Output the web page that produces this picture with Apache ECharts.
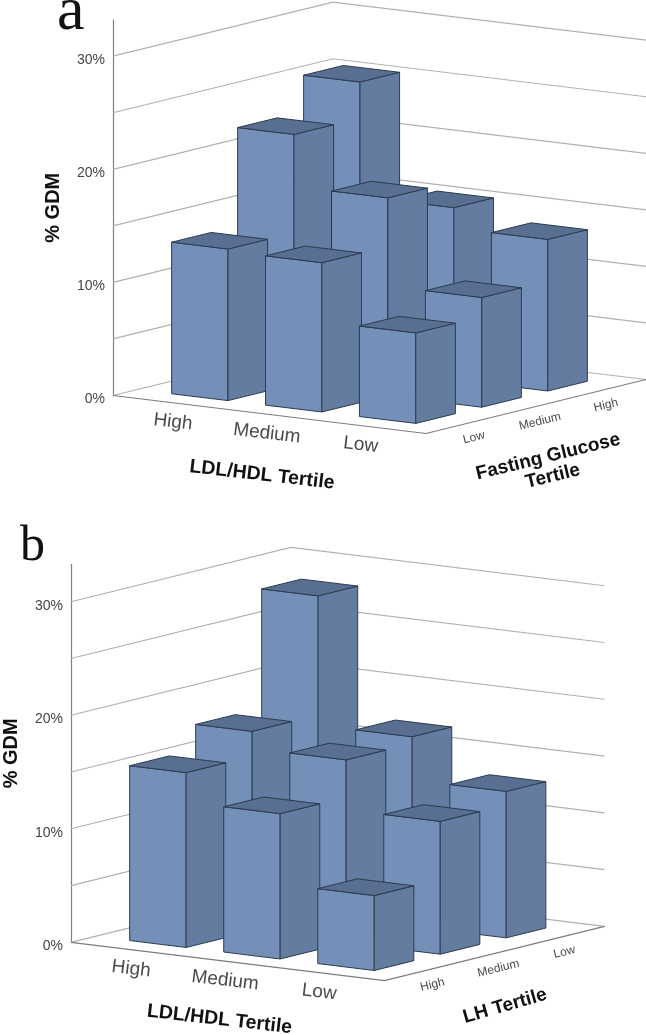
<!DOCTYPE html>
<html>
<head>
<meta charset="utf-8">
<style>
  html, body { margin: 0; background: #fff; }
  #chart { width: 646px; height: 1035px; }
</style>
<script src="https://cdn.jsdelivr.net/npm/echarts@6/dist/echarts.min.js"></script>
</head>
<body>
<div id="chart"></div>
<script>
const ldlLabels = ["High", "Medium", "Low"];
const glucoseLabels = ["Low", "Medium", "High"];
const lhLabels = ["High", "Medium", "Low"];
const wallTicks = [0, 5, 10, 15, 20, 25, 30];

// % GDM per LDL/HDL tertile, ordered along the depth axis (front to back)
const glucoseHighLdl = [13.4, 22.1, 25.3];
const glucoseMediumLdl = [13.2, 17.5, 15.2];
const glucoseLowLdl = [8.0, 9.7, 13.4];

const lhHighLdl = [15.4, 17.6, 28.1];
const lhMediumLdl = [12.8, 16.1, 16.7];
const lhLowLdl = [6.6, 11.7, 12.9];

const FONT = '"Liberation Sans", Arial, sans-serif';
const SPAN = 10 / 3; // floor length in category steps, both directions
const MARGIN = (SPAN - 3) / 2;
const BAR = 0.6;
const COLORS = { front: "#7490b9", side: "#637ca0", top: "#586f92", edge: "#2c3b50", wall: "#b4b0b0", floor: "#7c7c7c" };

// oblique projection: x axis gives the along-front position, y axis the height
function makeProject(api, skew) {
  return function (u, w, v) {
    const p = api.coord([u, v]);
    return [p[0] + w * skew.dzx, p[1] + u * skew.dxy + w * skew.dzy];
  };
}

function renderWall(skew) {
  return function (params, api) {
    const pt = makeProject(api, skew);
    const v = api.value(1);
    return {
      type: "polyline",
      silent: true,
      shape: { points: [pt(0, 0, v), pt(0, SPAN, v), pt(SPAN, SPAN, v)] },
      style: { fill: null, stroke: COLORS.wall, lineWidth: 1.2 }
    };
  };
}

function renderFloor(skew) {
  return function (params, api) {
    const pt = makeProject(api, skew);
    return {
      type: "polyline",
      silent: true,
      shape: { points: [pt(0, 0, 0), pt(SPAN, 0, 0), pt(SPAN, SPAN, 0)] },
      style: { fill: null, stroke: COLORS.floor, lineWidth: 1.2 }
    };
  };
}

function renderBar(skew) {
  return function (params, api) {
    const pt = makeProject(api, skew);
    const pad = MARGIN + (1 - BAR) / 2;
    const u0 = api.value(0) + pad, u1 = u0 + BAR;
    const w0 = api.value(1) + pad, w1 = w0 + BAR;
    const v = api.value(2);
    const face = (points, fill) => ({
      type: "polygon",
      silent: true,
      shape: { points: points },
      style: { fill: fill, stroke: COLORS.edge, lineWidth: 1, lineJoin: "round" }
    });
    return {
      type: "group",
      children: [
        face([pt(u0, w0, 0), pt(u1, w0, 0), pt(u1, w0, v), pt(u0, w0, v)], COLORS.front),
        face([pt(u1, w0, 0), pt(u1, w1, 0), pt(u1, w1, v), pt(u1, w0, v)], COLORS.side),
        face([pt(u0, w0, v), pt(u1, w0, v), pt(u1, w1, v), pt(u0, w1, v)], COLORS.top)
      ]
    };
  };
}

function renderLabel(skew, labels, along, fontSize, rotation, dx, dy) {
  return function (params, api) {
    const pt = makeProject(api, skew);
    const c = MARGIN + api.value(0) + 0.5;
    const p = along === "front" ? pt(c, 0, 0) : pt(SPAN, c, 0);
    return {
      type: "text",
      silent: true,
      x: p[0] + dx,
      y: p[1] + dy,
      rotation: rotation,
      style: {
        text: labels[params.dataIndex],
        fontFamily: FONT,
        fontSize: fontSize,
        fill: "#4a4a4a",
        align: "center",
        verticalAlign: "middle"
      }
    };
  };
}

function panelSeries(index, skew, rows, depthLabels) {
  const bars = [];
  // back to front, so nearer bars cover farther ones
  for (let w = 2; w >= 0; w--) {
    rows.forEach((row, u) => bars.push([u, w, row[w]]));
  }
  const base = { type: "custom", xAxisIndex: index, yAxisIndex: index, coordinateSystem: "cartesian2d", silent: true };
  return [
    Object.assign({}, base, { renderItem: renderWall(skew), data: wallTicks.map(v => [0, v]), encode: { x: 0, y: 1 }, z: 1 }),
    Object.assign({}, base, { renderItem: renderFloor(skew), data: [[0, 0]], encode: { x: 0, y: 1 }, z: 2 }),
    Object.assign({}, base, { renderItem: renderBar(skew), data: bars, encode: { x: 0, y: 2 }, z: 3 }),
    Object.assign({}, base, { renderItem: renderLabel(skew, ldlLabels, "front", 19, -0.12, -2.6, 19), data: ldlLabels.map((s, i) => [i, 0]), encode: { x: 0, y: 1 }, z: 4 }),
    Object.assign({}, base, { renderItem: renderLabel(skew, depthLabels, "depth", 12, 0.24, 4, 15), data: depthLabels.map((s, i) => [i, 0]), encode: { x: 0, y: 1 }, z: 4 })
  ];
}

function xAxis(gridIndex) {
  return { type: "value", gridIndex: gridIndex, min: 0, max: SPAN, show: false };
}

function yAxis(gridIndex, max) {
  return {
    type: "value",
    gridIndex: gridIndex,
    min: 0,
    max: max,
    interval: 10,
    name: "% GDM",
    nameLocation: "middle",
    nameRotate: 90,
    nameGap: 50,
    nameTextStyle: { fontFamily: FONT, fontSize: 20, fontWeight: "bold", color: "#111" },
    axisLine: { show: true, lineStyle: { color: "#808080", width: 1.2 } },
    axisTick: { show: false },
    splitLine: { show: false },
    axisLabel: {
      showMaxLabel: false,
      margin: 8,
      verticalAlign: "top",
      lineHeight: 8,
      fontFamily: FONT,
      fontSize: 14,
      color: "#444",
      formatter: "{value}%"
    }
  };
}

function title(text, x, y, rotation, size) {
  return {
    type: "text",
    x: x,
    y: y,
    rotation: rotation,
    silent: true,
    style: { text: text, fontFamily: FONT, fontSize: size, fontWeight: "bold", fill: "#111", align: "center", verticalAlign: "middle", lineHeight: 20 }
  };
}

function letter(text, x, y, size) {
  return {
    type: "text",
    x: x,
    y: y,
    silent: true,
    style: { text: text, fontFamily: '"Liberation Serif", serif', fontSize: size, fill: "#111", align: "left", verticalAlign: "bottom" }
  };
}

const skewA = { dxy: 38 / SPAN, dzx: 220 / SPAN, dzy: -54 / SPAN };
const skewB = { dxy: 38.4 / SPAN, dzx: 220 / SPAN, dzy: -54.4 / SPAN };

const chart = echarts.init(document.getElementById("chart"));
chart.setOption({
  animation: false,
  backgroundColor: "#fff",
  grid: [
    { left: 113, top: 20, width: 313, height: 375.5 },
    { left: 69, top: 564.3, width: 315.5, height: 378 }
  ],
  xAxis: [xAxis(0), xAxis(1)],
  yAxis: [yAxis(0, 33.2), yAxis(1, 33.3)],
  series: panelSeries(0, skewA, [glucoseHighLdl, glucoseMediumLdl, glucoseLowLdl], glucoseLabels)
    .concat(panelSeries(1, skewB, [lhHighLdl, lhMediumLdl, lhLowLdl], lhLabels)),
  graphic: [
    letter("a", 57, 44, 62),
    letter("b", 20, 572, 50),
    title("LDL/HDL Tertile", 262, 475, -0.115, 19.5),
    title("Fasting Glucose\nTertile", 550.5, 466.5, 0.24, 19),
    title("LDL/HDL Tertile", 219.5, 1019.5, -0.115, 19.5),
    title("LH Tertile", 505, 1006, 0.28, 19)
  ]
});
</script>
</body>
</html>
